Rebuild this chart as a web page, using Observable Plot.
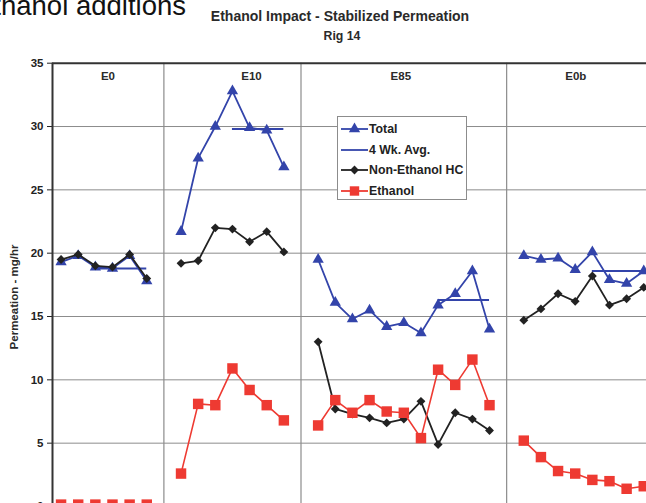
<!DOCTYPE html>
<html><head><meta charset="utf-8">
<script src="https://cdn.jsdelivr.net/npm/d3@7"></script>
<script src="https://cdn.jsdelivr.net/npm/@observablehq/plot@0.6"></script>
<style>
html,body{margin:0;padding:0;background:#fff;}
body{width:646px;height:503px;overflow:hidden;position:relative;font-family:"Liberation Sans",Arial,sans-serif;}
.abs{position:absolute;white-space:nowrap;line-height:1;}
#chart{position:absolute;left:0;top:0;}
#legend{position:absolute;left:337px;top:116px;width:130px;height:84px;box-sizing:border-box;border:1px solid #8c8c8c;background:#fff;}
.lrow{position:absolute;left:0;height:14px;width:128px;}
.lrow svg{position:absolute;left:3px;top:0;}
.lrow span{position:absolute;left:31px;top:0;line-height:14px;font-size:12.3px;font-weight:bold;color:#222;white-space:nowrap;}
</style></head><body>
<div id="chart"></div>
<div class="abs" style="left:-25px;top:-7.8px;font-size:27.5px;color:#111;">Ethanol additions</div>
<div class="abs" style="left:340px;top:8.6px;transform:translateX(-50%);font-size:14px;font-weight:bold;color:#2a2a2a;">Ethanol Impact - Stabilized Permeation</div>
<div class="abs" style="left:342px;top:30.3px;transform:translateX(-50%);font-size:12.3px;font-weight:bold;color:#2a2a2a;">Rig 14</div>
<div class="abs" style="left:15px;top:297px;transform:translate(-50%,-50%) rotate(-90deg);font-size:11.5px;font-weight:bold;color:#2a2a2a;">Permeation - mg/hr</div>
<div id="legend"></div>
<script>
// ---- data ----
const panels = ["E0", "E10", "E85", "E0b"];
const totalE0 = [19.3, 19.8, 18.9, 18.8, 19.8, 17.8];
const hcE0    = [19.5, 19.9, 19.0, 18.9, 19.9, 18.0];
const ethE0   = [0.15, 0.15, 0.15, 0.15, 0.15, 0.15];
const totalE10 = [21.7, 27.5, 30.0, 32.8, 29.9, 29.7, 26.8];
const hcE10    = [19.2, 19.4, 22.0, 21.9, 20.9, 21.7, 20.1];
const ethE10   = [2.6, 8.1, 8.0, 10.9, 9.2, 8.0, 6.8];
const totalE85 = [19.5, 16.1, 14.8, 15.5, 14.2, 14.5, 13.7, 15.9, 16.8, 18.6, 14.0];
const hcE85    = [13.0, 7.7, 7.3, 7.0, 6.6, 6.9, 8.3, 4.9, 7.4, 6.9, 6.0];
const ethE85   = [6.4, 8.4, 7.4, 8.4, 7.5, 7.4, 5.4, 10.8, 9.6, 11.6, 8.0];
const totalE0b = [19.8, 19.5, 19.6, 18.7, 20.1, 17.9, 17.6, 18.6];
const hcE0b    = [14.7, 15.6, 16.8, 16.2, 18.2, 15.9, 16.4, 17.3];
const ethE0b   = [5.2, 3.9, 2.8, 2.6, 2.1, 2.0, 1.4, 1.6];
const avg4wk   = [18.8, 29.8, 16.3, 18.6];
const yTicks   = [0, 5, 10, 15, 20, 25, 30, 35];
const seriesNames = ["Total", "4 Wk. Avg.", "Non-Ethanol HC", "Ethanol"];

// ---- styling / layout ----
const BLUE = "#3344aa", BLACK = "#222222", RED = "#ee3a32", GRID = "#8c8c8c";
const xMax = 35.16;            // visible right edge of the cropped chart (index units)
const labelDx = [4, 19, -3, -8];
const rTri = 4.2, rDia = 4, rSq = 5.9;

const seriesTotal = [totalE0, totalE10, totalE85, totalE0b];
const seriesHC = [hcE0, hcE10, hcE85, hcE0b];
const seriesEth = [ethE0, ethE10, ethE85, ethE0b];

const rows = [], dividers = [], avgRows = [], labelRows = [];
let idx = 0;
panels.forEach((p, k) => {
  if (k > 0) { idx += 1; dividers.push(idx); }
  const start = idx + 1;
  seriesTotal[k].forEach((t, j) => {
    idx += 1;
    rows.push({panel: p, idx, total: t, hc: seriesHC[k][j], eth: seriesEth[k][j]});
  });
  avgRows.push({panel: p, avg: avg4wk[k], x1: idx - 3, x2: idx});
  labelRows.push({panel: p, x: (start + idx) / 2, dx: labelDx[k]});
});

const chart = Plot.plot({
  width: 646, height: 536,
  marginTop: 62.7, marginLeft: 52, marginRight: 0, marginBottom: 30,
  x: {domain: [0.5, xMax], axis: null},
  y: {domain: [0, 35]},
  style: {fontFamily: "Liberation Sans, Arial, sans-serif", fontWeight: "bold", fontSize: "11.5px", color: "#222", background: "transparent"},
  marks: [
    Plot.ruleY(yTicks.filter(v => v > 0 && v < 35), {stroke: GRID, strokeWidth: 1}),
    Plot.ruleX(dividers, {stroke: GRID, strokeWidth: 1.2}),
    Plot.axisY({ticks: yTicks, tickSize: 5, tickPadding: 4, label: null, tickFormat: d => String(d)}),
    Plot.ruleX([0.5], {stroke: "#333", strokeWidth: 2}),
    Plot.ruleY([35], {stroke: "#333", strokeWidth: 2}),
    ...labelRows.map(l => Plot.text([l], {x: "x", y: () => 35, text: "panel", dy: 13, dx: l.dx, fill: "#2a2a2a", fontSize: 11.5, fontWeight: "bold"})),
    Plot.line(rows, {x: "idx", y: "total", z: "panel", stroke: BLUE, strokeWidth: 1.8}),
    Plot.dot(rows, {x: "idx", y: "total", symbol: "triangle", r: rTri, fill: BLUE, stroke: null}),
    Plot.ruleY(avgRows, {y: "avg", x1: "x1", x2: "x2", stroke: BLUE, strokeWidth: 2}),
    Plot.line(rows, {x: "idx", y: "hc", z: "panel", stroke: BLACK, strokeWidth: 1.8}),
    Plot.dot(rows, {x: "idx", y: "hc", symbol: "diamond2", r: rDia, fill: BLACK, stroke: null}),
    Plot.line(rows, {x: "idx", y: "eth", z: "panel", stroke: RED, strokeWidth: 1.6}),
    Plot.dot(rows, {x: "idx", y: "eth", symbol: "square", r: rSq, fill: RED, stroke: null})
  ]
});
document.getElementById("chart").appendChild(chart);

// ---- legend ----
const legend = d3.select("#legend");
const swatches = [
  {color: BLUE, symbol: d3.symbolTriangle, r: rTri},
  {color: BLUE, symbol: null},
  {color: BLACK, symbol: d3.symbolDiamond2, r: rDia},
  {color: RED, symbol: d3.symbolSquare, r: rSq * 0.9}
];
seriesNames.forEach((name, i) => {
  const row = legend.append("div").attr("class", "lrow").style("top", (4.6 + i * 20.9) + "px");
  const svg = row.append("svg").attr("width", 27).attr("height", 14);
  svg.append("line").attr("x1", 0).attr("x2", 27).attr("y1", 7).attr("y2", 7)
    .attr("stroke", swatches[i].color).attr("stroke-width", 1.8);
  if (swatches[i].symbol) {
    svg.append("path").attr("transform", "translate(13.5,7)")
      .attr("d", d3.symbol(swatches[i].symbol, Math.PI * swatches[i].r * swatches[i].r)())
      .attr("fill", swatches[i].color);
  }
  row.append("span").text(name);
});
</script>
</body></html>
